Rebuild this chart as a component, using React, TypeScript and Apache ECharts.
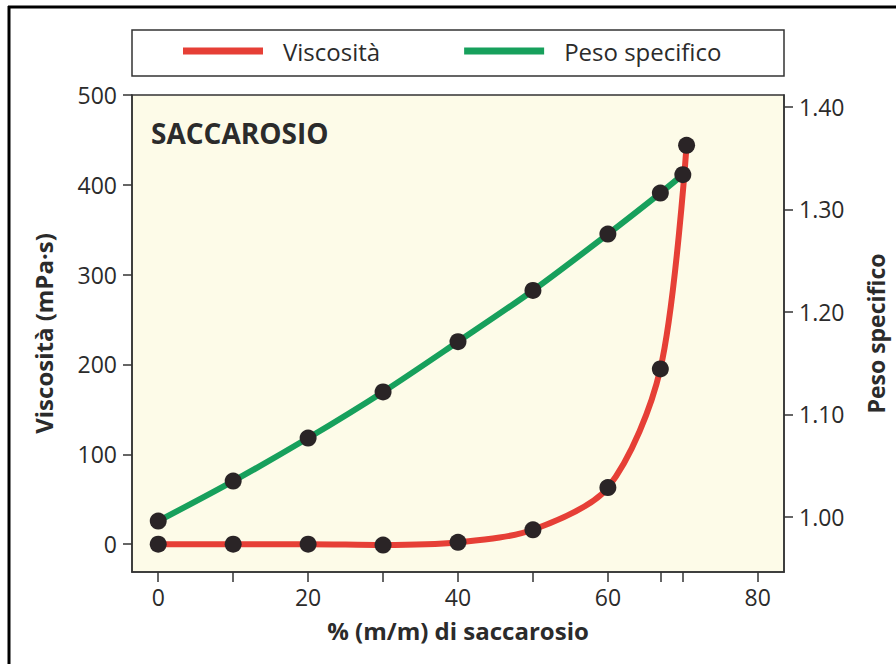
import React, { useEffect, useRef } from "react";
import * as echarts from "echarts";

const viscX = [0, 10, 20, 30, 40, 50, 60, 67, 70.5];
const viscY = [0, 0, 0, -1, 2, 16, 63, 195, 444];
const densX = [0, 10, 20, 30, 40, 50, 60, 67, 70];
const densY = [0.996, 1.035, 1.077, 1.122, 1.171, 1.221, 1.276, 1.316, 1.334];
const xTicks = [0, 10, 20, 30, 40, 50, 60, 67, 70, 80];
const xLabels = [0, 20, 40, 60, 80];
const leftLabels = [0, 100, 200, 300, 400, 500];
const rightLabels = [1.0, 1.1, 1.2, 1.3, 1.4];

const RED = "#e63f36";
const GREEN = "#17a05c";
const DOT = "#2a2426";
const INK = "#2b2b2b";
const FONT = "'Open Sans', 'Noto Sans', sans-serif";

export default function App() {
  const ref = useRef<HTMLDivElement>(null);
  useEffect(() => {
    const chart = echarts.init(ref.current!, null, { renderer: "svg" });
    const pairs = (xs: number[], ys: number[]) => xs.map((x, i) => [x, ys[i]]);
    const axisLine = { show: true, onZero: false, lineStyle: { color: "#333", width: 1.5 } };
    const nameStyle = { fontSize: 24, fontWeight: "bold", color: INK, fontFamily: FONT };
    chart.setOption({
      animation: false,
      backgroundColor: "#ffffff",
      textStyle: { fontFamily: FONT },
      grid: {
        left: 132,
        top: 95,
        width: 652,
        height: 477,
        show: true,
        backgroundColor: "#fdfbe8",
        borderColor: "#333",
        borderWidth: 1.5,
        outerBoundsMode: "none",
      },
      legend: {
        left: 183,
        top: 39,
        padding: 0,
        icon: "rect",
        itemWidth: 80,
        itemHeight: 7,
        itemGap: 84,
        textStyle: { fontSize: 24, color: INK, fontFamily: FONT, padding: [0, 0, 0, 15] },
        data: [
          { name: "Viscosità", itemStyle: { color: RED } },
          { name: "Peso specifico", itemStyle: { color: GREEN } },
        ],
      },
      graphic: [
        {
          type: "rect",
          shape: { x: 132, y: 30, width: 652, height: 46 },
          style: { fill: "none", stroke: "#333", lineWidth: 1.5 },
          z: 10,
        },
        {
          type: "text",
          x: 151,
          y: 133,
          style: {
            text: "SACCAROSIO",
            font: `bold 28px ${FONT}`,
            fill: INK,
            textVerticalAlign: "middle",
          },
          z: 10,
        },
        {
          type: "line",
          shape: { x1: 9, y1: 6, x2: 9, y2: 664 },
          style: { stroke: "#000", lineWidth: 3 },
        },
        {
          type: "line",
          shape: { x1: 8, y1: 7, x2: 896, y2: 7 },
          style: { stroke: "#000", lineWidth: 3 },
        },
      ],
      xAxis: {
        type: "value",
        min: -3.5,
        max: 83.5,
        name: "% (m/m) di saccarosio",
        nameLocation: "middle",
        nameGap: 46,
        nameTextStyle: nameStyle,
        axisLine,
        axisTick: { show: true, length: 10, lineStyle: { color: "#333", width: 1.5 }, customValues: xTicks },
        axisLabel: { fontSize: 23, color: INK, margin: 13, customValues: xLabels, fontFamily: FONT },
        splitLine: { show: false },
      },
      yAxis: [
        {
          type: "value",
          position: "left",
          min: -31,
          max: 500,
          name: "Viscosità (mPa·s)",
          nameLocation: "middle",
          nameRotate: 90,
          nameGap: 77,
          nameTextStyle: nameStyle,
          axisLine,
          axisTick: { show: true, length: 9, lineStyle: { color: "#333", width: 1.5 }, customValues: leftLabels },
          axisLabel: { fontSize: 23, color: INK, margin: 15, customValues: leftLabels, fontFamily: FONT },
          splitLine: { show: false },
        },
        {
          type: "value",
          position: "right",
          min: 0.9463,
          max: 1.4117,
          name: "Peso specifico",
          nameLocation: "middle",
          nameRotate: 90,
          nameGap: 80,
          nameTextStyle: { ...nameStyle, fontSize: 23 },
          axisLine,
          axisTick: { show: true, length: 9, lineStyle: { color: "#333", width: 1.5 }, customValues: rightLabels },
          axisLabel: {
            fontSize: 23,
            color: INK,
            margin: 15,
            customValues: rightLabels,
            fontFamily: FONT,
            formatter: (v: number) => v.toFixed(2),
          },
          splitLine: { show: false },
        },
      ],
      series: [
        {
          name: "Viscosità",
          type: "line",
          yAxisIndex: 0,
          data: pairs(viscX, viscY),
          smooth: 0.3,
          symbol: "circle",
          symbolSize: 17,
          lineStyle: { color: RED, width: 6 },
          itemStyle: { color: DOT },
          z: 3,
        },
        {
          name: "Peso specifico",
          type: "line",
          yAxisIndex: 1,
          data: pairs(densX, densY),
          smooth: 0.3,
          symbol: "circle",
          symbolSize: 17,
          lineStyle: { color: GREEN, width: 6 },
          itemStyle: { color: DOT },
          z: 4,
        },
      ],
    });
    return () => chart.dispose();
  }, []);
  return (
    <div
      ref={ref}
      style={{ position: "fixed", left: 0, top: 0, width: 896, height: 664 }}
    />
  );
}
